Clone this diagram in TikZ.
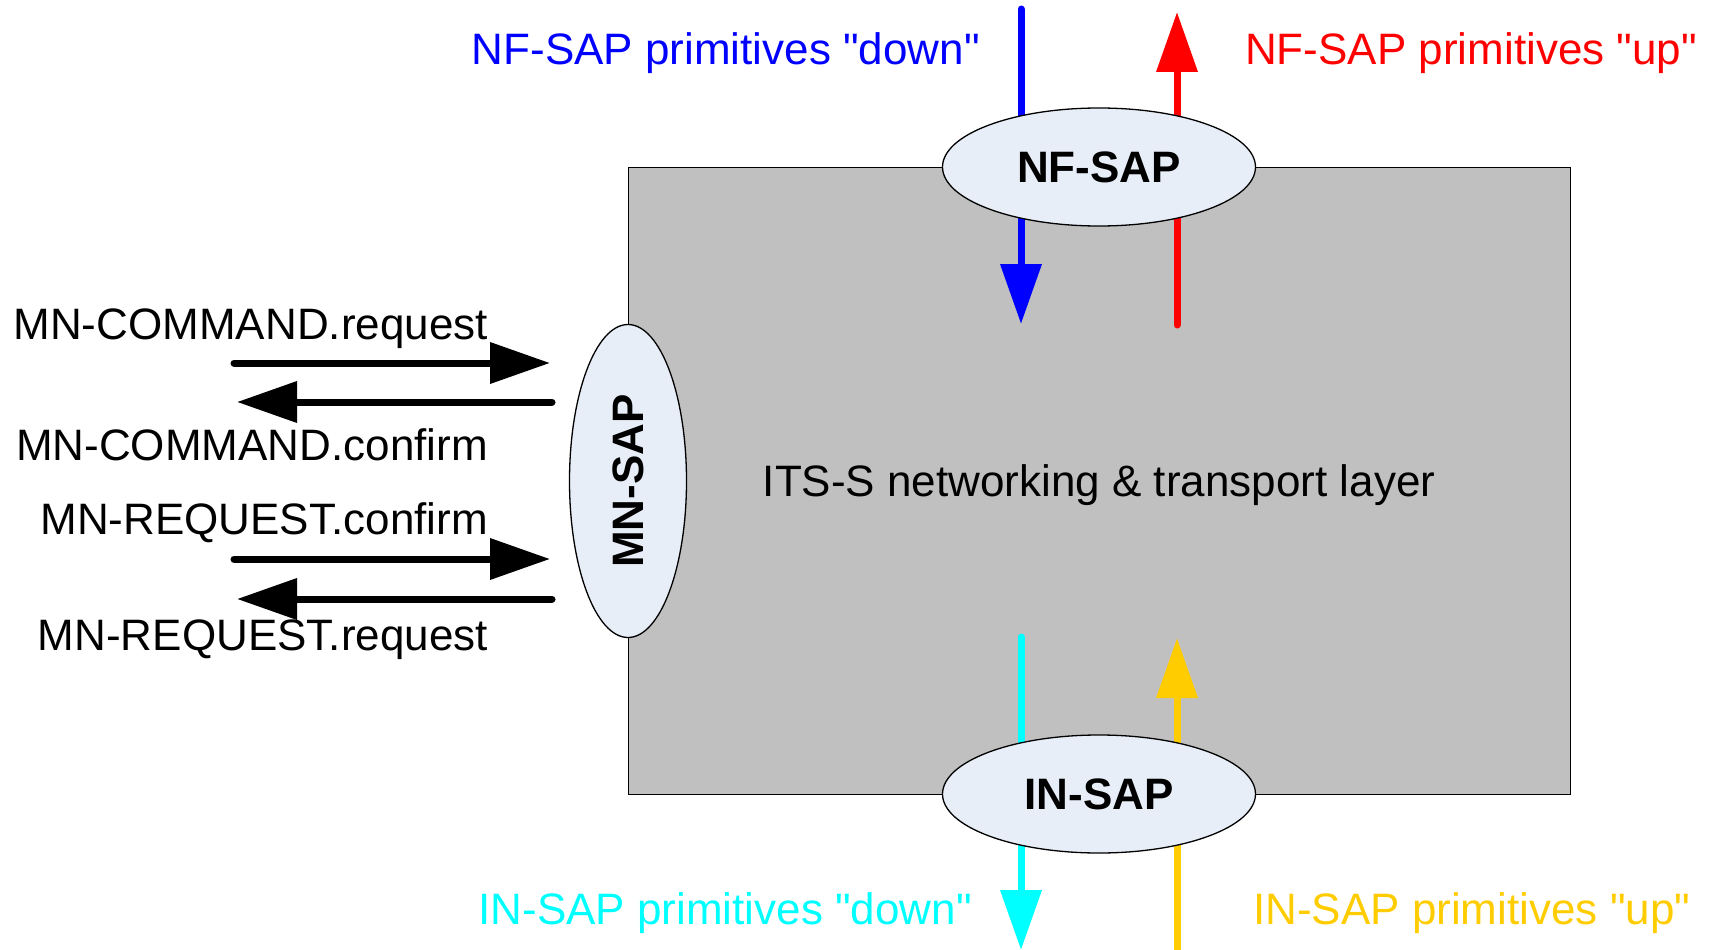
\documentclass[tikz,border=0pt]{standalone}
\usepackage{fontspec}
\setmainfont{Liberation Sans}[Ligatures=TeXOff]
\usetikzlibrary{arrows.meta,shapes.geometric}
\definecolor{layergray}{RGB}{192,192,192}
\definecolor{sapfill}{RGB}{232,238,248}
\definecolor{insapup}{RGB}{255,204,0}
\definecolor{insapdown}{RGB}{0,255,255}
\definecolor{nfdowncol}{RGB}{0,0,255}
\definecolor{nfupcol}{RGB}{255,0,0}
\begin{document}
\begin{tikzpicture}[x=1pt,y=-1pt,
  prim/.style={line width=7pt, line cap=round, -{Triangle[length=60pt,width=40pt]}},
  sap/.style={ellipse, draw=black, line width=1.3pt, fill=sapfill, inner sep=0pt,
    font=\fontsize{44}{52}\selectfont\bfseries},
  lbl/.style={inner sep=0pt, font=\fontsize{44}{52}\selectfont},
]
\useasboundingbox (0,0) rectangle (1713,950);
% layer box
\node[draw=black, line width=1.3pt, fill=layergray, minimum width=942pt, minimum height=627pt, inner sep=0pt, anchor=north west] (layer) at (628,167) {};
\node[lbl] (title) at (1099,485) {ITS-S networking \& transport layer};
% free ends
\coordinate (bdA) at (1021,9);    \coordinate (bdB) at (1021,324);
\coordinate (ruA) at (1177,325);  \coordinate (ruB) at (1177,12);
\coordinate (cdA) at (1021,637);  \coordinate (cdB) at (1021,950);
\coordinate (yuA) at (1177,955);  \coordinate (yuB) at (1177,638);
\coordinate (h1A) at (234,363);   \coordinate (h1B) at (550,363);
\coordinate (h2A) at (552,402);   \coordinate (h2B) at (237,402);
\coordinate (h3A) at (234,559);   \coordinate (h3B) at (550,559);
\coordinate (h4A) at (552,599);   \coordinate (h4B) at (237,599);
% primitives
\draw[prim, draw=nfdowncol, fill=nfdowncol] (bdA) -- (bdB);
\draw[prim, draw=nfupcol, fill=nfupcol] (ruA) -- (ruB);
\draw[prim, draw=insapdown, fill=insapdown] (cdA) -- (cdB);
\draw[prim, draw=insapup, fill=insapup] (yuA) -- (yuB);
\draw[prim, draw=black] (h1A) -- (h1B);
\draw[prim, draw=black] (h2A) -- (h2B);
\draw[prim, draw=black] (h3A) -- (h3B);
\draw[prim, draw=black] (h4A) -- (h4B);
% SAPs
\node[sap, minimum width=313pt, minimum height=118pt] (nfsap) at (1099,167) {NF-SAP};
\node[sap, minimum width=313pt, minimum height=118pt] (insap) at (1099,794) {IN-SAP};
\node[sap, rotate=90, minimum width=313pt, minimum height=117pt] (mnsap) at (628,481) {MN-SAP};
% labels
\node[lbl, text=nfdowncol, anchor=east] (nfdown) at (980,53) {NF-SAP primitives "down"};
\node[lbl, text=nfupcol, anchor=west] (nfup) at (1245,53) {NF-SAP primitives "up"};
\node[lbl, text=insapdown, anchor=east] (indown) at (972,913) {IN-SAP primitives "down"};
\node[lbl, text=insapup, anchor=west] (inup) at (1253,913) {IN-SAP primitives "up"};
\node[lbl, anchor=east] (cmdreq) at (488,329) {MN-COMMAND.request};
\node[lbl, anchor=east] (cmdconf) at (488,445) {MN-COMMAND.confirm};
\node[lbl, anchor=east] (reqconf) at (488,523) {MN-REQUEST.confirm};
\node[lbl, anchor=east] (reqreq) at (488,640) {MN-REQUEST.request};
\end{tikzpicture}
\end{document}
